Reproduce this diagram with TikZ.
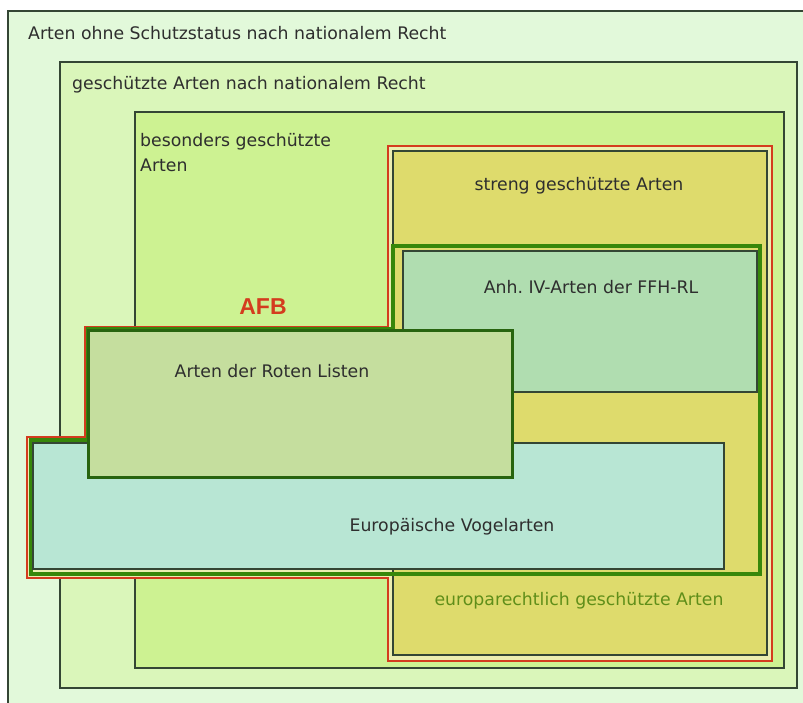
\documentclass[tikz,border=0pt]{standalone}
\usepackage{fontspec}
\setmainfont{DejaVu Sans}
\newfontfamily\afbfont{Liberation Sans}
\definecolor{ohne}{RGB}{226,249,218}
\definecolor{national}{RGB}{218,246,186}
\definecolor{besonders}{RGB}{205,242,146}
\definecolor{afbgrund}{RGB}{236,238,176}
\definecolor{streng}{RGB}{222,219,108}
\definecolor{anhang}{RGB}{176,221,176}
\definecolor{rote}{RGB}{197,222,158}
\definecolor{vogel}{RGB}{184,230,212}
\definecolor{rand}{RGB}{52,70,52}
\definecolor{rotrand}{RGB}{40,100,15}
\definecolor{afbrot}{RGB}{212,60,30}
\definecolor{eugruen}{RGB}{55,135,10}
\definecolor{eutext}{RGB}{95,142,25}
\tikzset{
  feld/.style={line width=1.3pt, draw=rand},
  lbl/.style={inner sep=0pt, text=black!82, font=\fontsize{17.3}{25}\selectfont}
}

\begin{document}
\frenchspacing
\begin{tikzpicture}[x=1pt,y=-1pt]
		%%%%% START %%%%%
		\clip (0,0) rectangle (803,702);
		\fill[white] (0,0) rectangle (803,702);
		
		\draw[feld, fill=ohne] (8,11) rectangle (830,730);
		\draw[feld, fill=national] (60,62) rectangle (797,688);
		\draw[feld, fill=besonders] (135,112) rectangle (784,668);
		
		% AFB
		\draw[line width=1.2pt, color=afbrot, fill=afbgrund] (388,146) -- (772,146) -- (772,661) -- (388,661) -- (388,578) -- (27,578) -- (27,437) -- (85,437) -- (85,327) -- (388,327) -- cycle;
		\draw[feld, fill=streng] (393,151) rectangle (767,655);
		
		% europarechtlich
		\draw[line width=3.2pt, color=eugruen] (393,246) -- (760,246) -- (760,574) -- (31,574) -- (31,440) -- (88,440) -- (88,329) -- (393,329) -- cycle;
		
		\draw[feld, fill=anhang] (403,251) rectangle (757,392);
		\draw[feld, fill=vogel] (33,443) rectangle (724,569);
		\draw[line width=3pt, color=rotrand, fill=rote] (88,330) rectangle (512,477);
		
		\node[lbl, anchor=base west] (ohnetxt) at (28,39) {Arten ohne Schutzstatus nach nationalem Recht};
		\node[lbl, anchor=base west] (nattxt) at (72,89) {geschützte Arten nach nationalem Recht};
		\node[lbl, anchor=north west, align=left] (bestxt) at (140,133) {besonders geschützte\\Arten};
		\node[lbl, anchor=base] (strengtxt) at (579,190) {streng geschützte Arten};
		\node[lbl, anchor=base] (anhtxt) at (591,293) {Anh. IV-Arten der FFH-RL};
		\node[lbl, anchor=base, text=afbrot, font=\afbfont\bfseries\fontsize{23}{26}\selectfont] (afbtxt) at (263,314) {AFB};
		\node[lbl, anchor=base] (rotetxt) at (272,377) {Arten der Roten Listen};
		\node[lbl, anchor=base] (vogeltxt) at (452,531) {Europäische Vogelarten};
		\node[lbl, anchor=base, text=eutext] (eutxt) at (579,605) {europarechtlich geschützte Arten};
		
		%%%%% END %%%%%
\end{tikzpicture}
\end{document}
